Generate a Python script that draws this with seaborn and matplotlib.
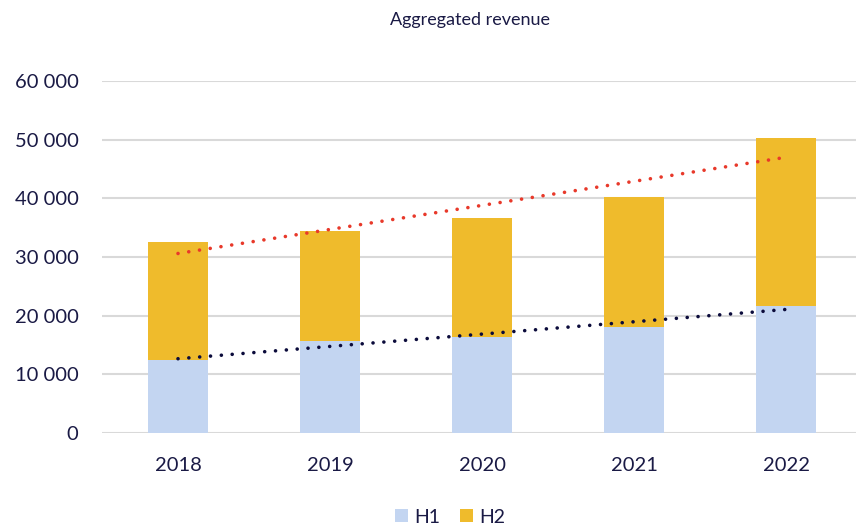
import numpy as np
import pandas as pd
import matplotlib
matplotlib.use("Agg")
import matplotlib.pyplot as plt
import seaborn as sns
from matplotlib.patches import Patch

years = ["2018", "2019", "2020", "2021", "2022"]
h1 = [12400, 15700, 16400, 18100, 21700]
h2 = [20200, 18700, 20200, 22100, 28500]
yticks = [0, 10000, 20000, 30000, 40000, 50000, 60000]
ytick_labels = ["0", "10 000", "20 000", "30 000", "40 000", "50 000", "60 000"]

total = [a + b for a, b in zip(h1, h2)]
df = pd.DataFrame({"year": years, "H1": h1, "H2": h2, "total": total})

sns.set_theme(style="white")
plt.rcParams["font.family"] = ["Lato", "DejaVu Sans"]

c_h1 = "#C3D5F1"
c_h2 = "#EFBB2C"
c_red = "#E8392A"
c_navy = "#0B0B3B"
c_text = "#1A1A45"

fig = plt.figure(figsize=(8.56, 5.26), dpi=100)
ax = fig.add_axes([102 / 856, 93 / 526, 760 / 856, 352 / 526])

ax.set_axisbelow(True)
ax.yaxis.grid(True, color="#D9D9D9", linewidth=1.5)
ax.xaxis.grid(False)

sns.barplot(data=df, x="year", y="total", color=c_h2, width=0.395, ax=ax,
            saturation=1, edgecolor="none")
sns.barplot(data=df, x="year", y="H1", color=c_h1, width=0.395, ax=ax,
            saturation=1, edgecolor="none")

xs = np.arange(len(years))
for vals, col in [(total, c_red), (h1, c_navy)]:
    k, b = np.polyfit(xs, vals, 1)
    ax.plot(xs, k * xs + b, color=col, linewidth=2.6,
            linestyle=(0, (0.01, 3.0)), dash_capstyle="round", zorder=5)

ax.set_xlim(-0.5, 4.5)
ax.set_ylim(0, 60000)
ax.set_yticks(yticks)
ax.set_yticklabels(ytick_labels)
ax.set_xlabel("")
ax.set_ylabel("")
for s in ax.spines.values():
    s.set_visible(False)
ax.tick_params(axis="y", length=0, pad=17, labelsize=14.5, labelcolor=c_text)
ax.tick_params(axis="x", length=0, pad=17, labelsize=14.5, labelcolor=c_text)

fig.text(0.549, 0.962, "Aggregated revenue", ha="center", va="center",
         fontsize=13, color=c_text)

handles = [Patch(facecolor=c_h1, edgecolor="none", label="H1"),
           Patch(facecolor=c_h2, edgecolor="none", label="H2")]
fig.legend(handles=handles, loc="center", bbox_to_anchor=(0.526, 0.017),
           ncol=2, frameon=False, handlelength=0.65, handleheight=0.65,
           handletextpad=0.35, columnspacing=1.0, fontsize=14,
           labelcolor=c_text)

fig.savefig("out.png", dpi=100)
